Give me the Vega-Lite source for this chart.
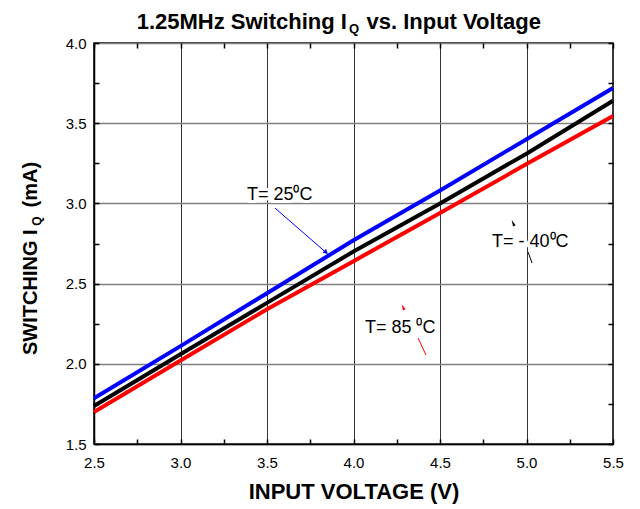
{
  "$schema": "https://vega.github.io/schema/vega-lite/v6.json",
  "width": 519,
  "height": 401,
  "autosize": {"type": "none"},
  "padding": {"left": 94, "top": 43, "right": 27, "bottom": 65},
  "background": "white",
  "config": {"font": "Liberation Sans", "view": {"stroke": "black", "strokeWidth": 1.5}},
  "datasets": {
    "curves": [
      {"T": "25", "v": 2.5, "i": 1.785}, {"T": "25", "v": 3.0, "i": 2.11}, {"T": "25", "v": 3.5, "i": 2.44}, {"T": "25", "v": 4.0, "i": 2.77}, {"T": "25", "v": 4.5, "i": 3.08}, {"T": "25", "v": 5.0, "i": 3.40}, {"T": "25", "v": 5.5, "i": 3.72},
      {"T": "-40", "v": 2.5, "i": 1.737}, {"T": "-40", "v": 3.0, "i": 2.06}, {"T": "-40", "v": 3.5, "i": 2.38}, {"T": "-40", "v": 4.0, "i": 2.70}, {"T": "-40", "v": 4.5, "i": 3.00}, {"T": "-40", "v": 5.0, "i": 3.31}, {"T": "-40", "v": 5.5, "i": 3.64},
      {"T": "85", "v": 2.5, "i": 1.70}, {"T": "85", "v": 3.0, "i": 2.02}, {"T": "85", "v": 3.5, "i": 2.34}, {"T": "85", "v": 4.0, "i": 2.64}, {"T": "85", "v": 4.5, "i": 2.94}, {"T": "85", "v": 5.0, "i": 3.245}, {"T": "85", "v": 5.5, "i": 3.545}
    ],
    "notes": [
      {"T": "25", "label": "T= 25⁰C", "x": 3.384, "y": 3.021},
      {"T": "-40", "label": "T= - 40⁰C", "x": 4.801, "y": 2.728},
      {"T": "85", "label": "T= 85 ⁰C", "x": 4.066, "y": 2.192}
    ],
    "arrows": [
      {"T": "25", "x": 3.546, "y": 2.971, "x2": 3.835, "y2": 2.70},
      {"T": "-40", "x": 5.009, "y": 2.697, "x2": 5.032, "y2": 2.628},
      {"T": "85", "x": 4.373, "y": 2.161, "x2": 4.419, "y2": 2.055}
    ],
    "heads": [
      {"T": "25", "x": 3.838, "y": 2.698},
      {"T": "-40", "x": 4.922, "y": 2.878},
      {"T": "85", "x": 4.286, "y": 2.354}
    ],
    "texts": [
      {"id": "t1", "text": "1.25MHz Switching I", "x": 3.962, "y": 4.087},
      {"id": "t2", "text": "Q", "x": 3.974, "y": 4.062},
      {"id": "t3", "text": "vs. Input Voltage", "x": 4.075, "y": 4.087},
      {"id": "y1", "text": "SWITCHING I", "x": 2.1705, "y": 2.055},
      {"id": "y2", "text": "Q", "x": 2.194, "y": 2.86},
      {"id": "y3", "text": "(mA)", "x": 2.1705, "y": 2.975}
    ]
  },
  "layer": [
    {
      "data": {"name": "curves"},
      "mark": {"type": "line", "strokeWidth": 4},
      "encoding": {
        "x": {"field": "v", "type": "quantitative", "scale": {"domain": [2.5, 5.5], "nice": false, "zero": false},
          "axis": {"orient": "bottom", "values": [2.5, 2.75, 3, 3.25, 3.5, 3.75, 4, 4.25, 4.5, 4.75, 5, 5.25, 5.5],
            "labelExpr": "datum.value % 0.5 === 0 ? format(datum.value, '.1f') : ''",
            "labelFontSize": 15, "labelColor": "black", "labelPadding": 16, "labelOverlap": false, "labelFlush": false,
            "tickSize": -5, "tickColor": "black", "tickWidth": 1.5,
            "domainColor": "black", "domainWidth": 1.5,
            "grid": true, "gridColor": "#333333", "gridWidth": 1,
            "gridOpacity": {"condition": {"test": "datum.value % 0.5 === 0", "value": 1}, "value": 0},
            "title": "INPUT VOLTAGE (V)", "titleFontSize": 22, "titleFontWeight": "bold", "titleColor": "black", "titlePadding": 11}},
        "y": {"field": "i", "type": "quantitative", "scale": {"domain": [1.5, 4.0], "nice": false, "zero": false},
          "axis": {"orient": "left", "values": [1.5, 1.75, 2, 2.25, 2.5, 2.75, 3, 3.25, 3.5, 3.75, 4],
            "labelExpr": "datum.value % 0.5 === 0 ? format(datum.value, '.1f') : ''",
            "labelFontSize": 15, "labelColor": "black", "labelPadding": 13, "labelOverlap": false, "labelFlush": false,
            "tickSize": -5, "tickColor": "black", "tickWidth": 1.5,
            "domainColor": "black", "domainWidth": 1.5,
            "grid": true, "gridColor": "#808080", "gridWidth": 1.5,
            "gridOpacity": {"condition": {"test": "datum.value % 0.5 === 0", "value": 1}, "value": 0},
            "title": null}},
        "color": {"field": "T", "type": "nominal", "scale": {"domain": ["25", "-40", "85"], "range": ["#0000ff", "#000000", "#ff0000"]}, "legend": null}
      }
    },
    {
      "data": {"name": "arrows"},
      "mark": {"type": "rule", "strokeWidth": 1},
      "encoding": {
        "x": {"field": "x", "type": "quantitative", "scale": {"domain": [2.5, 5.5], "nice": false, "zero": false}, "axis": null},
        "y": {"field": "y", "type": "quantitative", "scale": {"domain": [1.5, 4.0], "nice": false, "zero": false}, "axis": null},
        "x2": {"field": "x2"},
        "y2": {"field": "y2"},
        "color": {"field": "T", "type": "nominal", "legend": null}
      }
    },
    {
      "data": {"name": "heads"},
      "transform": [{"filter": "datum.T === '25'"}],
      "mark": {"type": "point", "shape": "triangle", "filled": true, "size": 30, "angle": 131, "opacity": 1},
      "encoding": {
        "x": {"field": "x", "type": "quantitative", "scale": {"domain": [2.5, 5.5], "nice": false, "zero": false}, "axis": null},
        "y": {"field": "y", "type": "quantitative", "scale": {"domain": [1.5, 4.0], "nice": false, "zero": false}, "axis": null},
        "color": {"field": "T", "type": "nominal", "legend": null}
      }
    },
    {
      "data": {"name": "heads"},
      "transform": [{"filter": "datum.T !== '25'"}],
      "mark": {"type": "point", "shape": "M0,-1L0.45,1L-0.45,1Z", "filled": true, "size": 40, "angle": 335, "opacity": 1},
      "encoding": {
        "x": {"field": "x", "type": "quantitative", "scale": {"domain": [2.5, 5.5], "nice": false, "zero": false}, "axis": null},
        "y": {"field": "y", "type": "quantitative", "scale": {"domain": [1.5, 4.0], "nice": false, "zero": false}, "axis": null},
        "color": {"field": "T", "type": "nominal", "legend": null}
      }
    },
    {
      "data": {"name": "notes"},
      "mark": {"type": "text", "fontSize": 18, "align": "left", "baseline": "alphabetic", "stroke": "white", "strokeWidth": 6, "fill": "white"},
      "encoding": {
        "x": {"field": "x", "type": "quantitative", "scale": {"domain": [2.5, 5.5], "nice": false, "zero": false},
          "axis": {"orient": "top", "values": [2.5, 2.75, 3, 3.25, 3.5, 3.75, 4, 4.25, 4.5, 4.75, 5, 5.25, 5.5], "labels": false, "domain": false, "grid": false, "tickSize": -5, "tickColor": "black", "tickWidth": 1.5, "title": null}},
        "y": {"field": "y", "type": "quantitative", "scale": {"domain": [1.5, 4.0], "nice": false, "zero": false},
          "axis": {"orient": "right", "values": [1.5, 1.75, 2, 2.25, 2.5, 2.75, 3, 3.25, 3.5, 3.75, 4], "labels": false, "domain": false, "grid": false, "tickSize": -5, "tickColor": "black", "tickWidth": 1.5, "title": null}},
        "text": {"field": "label"}
      }
    },
    {
      "data": {"name": "notes"},
      "mark": {"type": "text", "fontSize": 18, "align": "left", "baseline": "alphabetic", "fill": "black"},
      "encoding": {
        "x": {"field": "x", "type": "quantitative", "scale": {"domain": [2.5, 5.5], "nice": false, "zero": false}, "axis": null},
        "y": {"field": "y", "type": "quantitative", "scale": {"domain": [1.5, 4.0], "nice": false, "zero": false}, "axis": null},
        "text": {"field": "label"}
      }
    },
    {
      "data": {"name": "texts"},
      "transform": [{"filter": "datum.id === 't1'"}],
      "mark": {"type": "text", "fontSize": 22, "fontWeight": "bold", "align": "right", "baseline": "alphabetic", "fill": "black"},
      "encoding": {
        "x": {"field": "x", "type": "quantitative", "scale": {"domain": [2.5, 5.5], "nice": false, "zero": false}, "axis": null},
        "y": {"field": "y", "type": "quantitative", "scale": {"domain": [1.5, 4.0], "nice": false, "zero": false}, "axis": null},
        "text": {"field": "text"}
      }
    },
    {
      "data": {"name": "texts"},
      "transform": [{"filter": "datum.id === 't2'"}],
      "mark": {"type": "text", "fontSize": 13, "fontWeight": "bold", "align": "left", "baseline": "alphabetic", "fill": "black"},
      "encoding": {
        "x": {"field": "x", "type": "quantitative", "scale": {"domain": [2.5, 5.5], "nice": false, "zero": false}, "axis": null},
        "y": {"field": "y", "type": "quantitative", "scale": {"domain": [1.5, 4.0], "nice": false, "zero": false}, "axis": null},
        "text": {"field": "text"}
      }
    },
    {
      "data": {"name": "texts"},
      "transform": [{"filter": "datum.id === 't3'"}],
      "mark": {"type": "text", "fontSize": 22, "fontWeight": "bold", "align": "left", "baseline": "alphabetic", "fill": "black"},
      "encoding": {
        "x": {"field": "x", "type": "quantitative", "scale": {"domain": [2.5, 5.5], "nice": false, "zero": false}, "axis": null},
        "y": {"field": "y", "type": "quantitative", "scale": {"domain": [1.5, 4.0], "nice": false, "zero": false}, "axis": null},
        "text": {"field": "text"}
      }
    },
    {
      "data": {"name": "texts"},
      "transform": [{"filter": "datum.id === 'y1' || datum.id === 'y3'"}],
      "mark": {"type": "text", "fontSize": 20, "fontWeight": "bold", "align": "left", "baseline": "alphabetic", "angle": 270, "fill": "black"},
      "encoding": {
        "x": {"field": "x", "type": "quantitative", "scale": {"domain": [2.5, 5.5], "nice": false, "zero": false}, "axis": null},
        "y": {"field": "y", "type": "quantitative", "scale": {"domain": [1.5, 4.0], "nice": false, "zero": false}, "axis": null},
        "text": {"field": "text"}
      }
    },
    {
      "data": {"name": "texts"},
      "transform": [{"filter": "datum.id === 'y2'"}],
      "mark": {"type": "text", "fontSize": 12, "fontWeight": "bold", "align": "left", "baseline": "alphabetic", "angle": 270, "fill": "black"},
      "encoding": {
        "x": {"field": "x", "type": "quantitative", "scale": {"domain": [2.5, 5.5], "nice": false, "zero": false}, "axis": null},
        "y": {"field": "y", "type": "quantitative", "scale": {"domain": [1.5, 4.0], "nice": false, "zero": false}, "axis": null},
        "text": {"field": "text"}
      }
    }
  ],
  "resolve": {"axis": {"x": "independent", "y": "independent"}}
}
